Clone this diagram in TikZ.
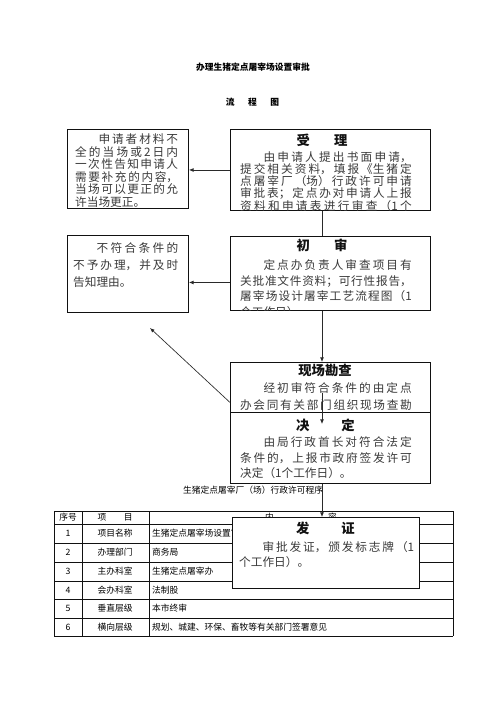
\documentclass[tikz,border=0pt]{standalone}
\usepackage{fontspec}
\setmainfont{Noto Sans CJK SC}
\usepackage{xcolor}
\usepackage{tikz}
\usetikzlibrary{arrows.meta,positioning,calc}
\definecolor{shenpiInk}{HTML}{111111}
\definecolor{shenpiInk2}{HTML}{3A3A3A}
\definecolor{shenpiArrow}{HTML}{2A2A2A}
\XeTeXlinebreaklocale "zh"
\XeTeXlinebreakskip=0pt plus 30pt

\tikzset{
  stepbox/.style={draw=shenpiInk, line width=1.1pt, fill=white, anchor=north west, inner sep=0pt},
  boxtitle/.style={anchor=base, inner sep=0pt, text=shenpiInk, font=\fontsize{16}{18}\selectfont\bfseries},
  boxbody/.style={anchor=base west, inner sep=0pt, align=justify, text=shenpiInk2},
  flowline/.style={draw=shenpiArrow, line width=0.8pt},
  flowarrow/.style={flowline, -{Latex[length=5.5pt,width=4.5pt]}},
  gridline/.style={draw=shenpiInk, line width=0.8pt},
  cell/.style={inner sep=0pt, text=black, font={\fontsize{10.5}{12}\selectfont\XeTeXlinebreakskip=1.3pt\relax}},
}

\begin{document}
\begin{tikzpicture}[x=1.2pt, y=-1.2pt]
  \useasboundingbox[fill=white] (0,0) rectangle (496,702);

  \node[cell, font={\fontsize{10.5}{12}\selectfont\bfseries\XeTeXlinebreakskip=1.2pt\relax}] (doc-title) at (253,67) {办理生猪定点屠宰场设置审批};
  \node[cell, font=\fontsize{10.5}{12}\selectfont\bfseries] (doc-sub) at (252.5,102) {流\hspace{1.55em}程\hspace{1.55em}图};

  \coordinate (spine) at (322,0);

  % flow boxes, text clipped to the box
  \node[stepbox, minimum width=145.2pt, minimum height=94.8pt] (buchong) at (67,129) {};
  \begin{scope}
    \clip (buchong.north west) rectangle (buchong.south east);
    \node[boxbody, text width=123.6pt, font=\fontsize{14}{15.1}\selectfont] (buchong-b) at (75,143.5)
      {\hspace*{2em}申请者材料不\linebreak 全的当场或2日内\linebreak 一次性告知申请人\linebreak 需要补充的内容，\linebreak 当场可以更正的允\linebreak 许当场更正。};
  \end{scope}

  \node[stepbox, minimum width=240pt, minimum height=97.2pt] (shouli) at (230,129) {};
  \begin{scope}
    \clip (shouli.north west) rectangle (shouli.south east);
    \node[boxtitle] (shouli-t) at (322,145) {受\hspace{1.8em}理};
    \node[boxbody, text width=206pt, font=\fontsize{14}{13.2}\selectfont] (shouli-b) at (240,161.5)
      {\hspace*{2em}由申请人提出书面申请，\linebreak 提交相关资料，填报《生猪定\linebreak 点屠宰厂（场）行政许可申请\linebreak 审批表；定点办对申请人上报\linebreak 资料和申请表进行审查（1个\linebreak\mbox{}};
  \end{scope}

  \node[stepbox, minimum width=145.2pt, minimum height=92.4pt] (buhege) at (67,235) {};
  \begin{scope}
    \clip (buhege.north west) rectangle (buhege.south east);
    \node[boxbody, text width=126pt, font=\fontsize{14}{20.4}\selectfont] (buhege-b) at (73,252.5)
      {\hspace*{2em}不符合条件的\linebreak 不予办理，并及时\linebreak 告知理由。};
  \end{scope}

  \node[stepbox, minimum width=240pt, minimum height=88.8pt] (chushen) at (230,236) {};
  \begin{scope}
    \clip (chushen.north west) rectangle (chushen.south east);
    \node[boxtitle] (chushen-t) at (322,250) {初\hspace{1.8em}审};
    \node[boxbody, text width=206pt, font=\fontsize{14}{18.8}\selectfont] (chushen-b) at (240,269.5)
      {\hspace*{2em}定点办负责人审查项目有\linebreak 关批准文件资料；可行性报告，\linebreak 屠宰场设计屠宰工艺流程图（1\linebreak 个工作日）。};
  \end{scope}

  \node[stepbox, minimum width=240pt, minimum height=60pt] (xianchang) at (230,362) {};
  \begin{scope}
    \clip (xianchang.north west) rectangle (xianchang.south east);
    \node[boxtitle] (xianchang-t) at (325,375) {现场勘查};
    \node[boxbody, text width=206pt, font=\fontsize{14}{20.4}\selectfont] (xianchang-b) at (240,392.5)
      {\hspace*{2em}经初审符合条件的由定点\linebreak 办会同有关部门组织现场查勘\linebreak\mbox{}};
  \end{scope}

  \node[stepbox, minimum width=240pt, minimum height=85.2pt] (jueding) at (230,412) {};
  \begin{scope}
    \clip (jueding.north west) rectangle (jueding.south east);
    \node[boxtitle] (jueding-t) at (325.5,430) {决\hspace{2.4em}定};
    \node[boxbody, text width=206pt, font=\fontsize{14}{18.6}\selectfont] (jueding-b) at (240,446.5)
      {\hspace*{2em}由局行政首长对符合法定\linebreak 条件的，上报市政府签发许可\linebreak 决定（1个工作日）。};
  \end{scope}

  % connectors
  \draw[flowarrow] (shouli.west) -- (shouli.west -| buchong.east);
  \draw[flowline] (shouli.south -| spine) -- (chushen.north -| spine);
  \draw[flowarrow] ($(chushen.west)+(0,9)$) -- ($(chushen.west -| buhege.east)+(0,9)$);
  \draw[flowarrow] (chushen.south -| spine) -- (xianchang.north -| spine);
  \coordinate (reject) at (150,328);
  \draw[flowarrow] ($(xianchang.west)+(0,15)$) -- (reject);
  \draw[flowarrow] ($(xianchang.center -| spine)+(0,6)$) -- ($(jueding.north -| spine)+(0,12)$);

  % table
  \node[cell] (tab-caption) at (253,490) {生猪定点屠宰厂（场）行政许可程序};
  \foreach \y in {511,524,543,562,581,599,618,636}
    \draw[gridline] (54,\y) -- (453,\y);
  \foreach \x in {54,82,149,453}
    \draw[gridline] (\x,511) -- (\x,636);
  \node[cell] (th-no) at (68,517.5) {序号};
  \node[cell] (th-item) at (115,517.5) {项\hspace{2em}目};
  \node[cell] (th-text) at (301,517.5) {内\hspace{6.2em}容};
  \foreach \i/\y/\what/\detail in {1/533.5/项目名称/生猪定点屠宰场设置审批,
      2/552.5/办理部门/商务局, 3/571.5/主办科室/生猪定点屠宰办,
      4/590/会办科室/法制股, 5/608.5/垂直层级/本市终审,
      6/627/横向层级/规划、城建、环保、畜牧等有关部门签署意见} {
    \node[cell] (no-\i) at (68,\y) {\i};
    \node[cell] (item-\i) at (115,\y) {\what};
    \node[cell, anchor=west] (text-\i) at (152,\y) {\detail};
  }

  \node[stepbox, minimum width=224.4pt, minimum height=85.2pt] (fazheng) at (232,517) {};
  \begin{scope}
    \clip (fazheng.north west) rectangle (fazheng.south east);
    \node[boxtitle] (fazheng-t) at (325.5,533) {发\hspace{2.4em}证};
    \node[boxbody, text width=210pt, font=\fontsize{14}{18}\selectfont] (fazheng-b) at (239,551.5)
      {\hspace*{2em}审批发证，颁发标志牌（1\linebreak 个工作日）。};
  \end{scope}
  \draw[flowarrow] (jueding.south -| spine) -- (fazheng.north -| spine);
\end{tikzpicture}
\end{document}
